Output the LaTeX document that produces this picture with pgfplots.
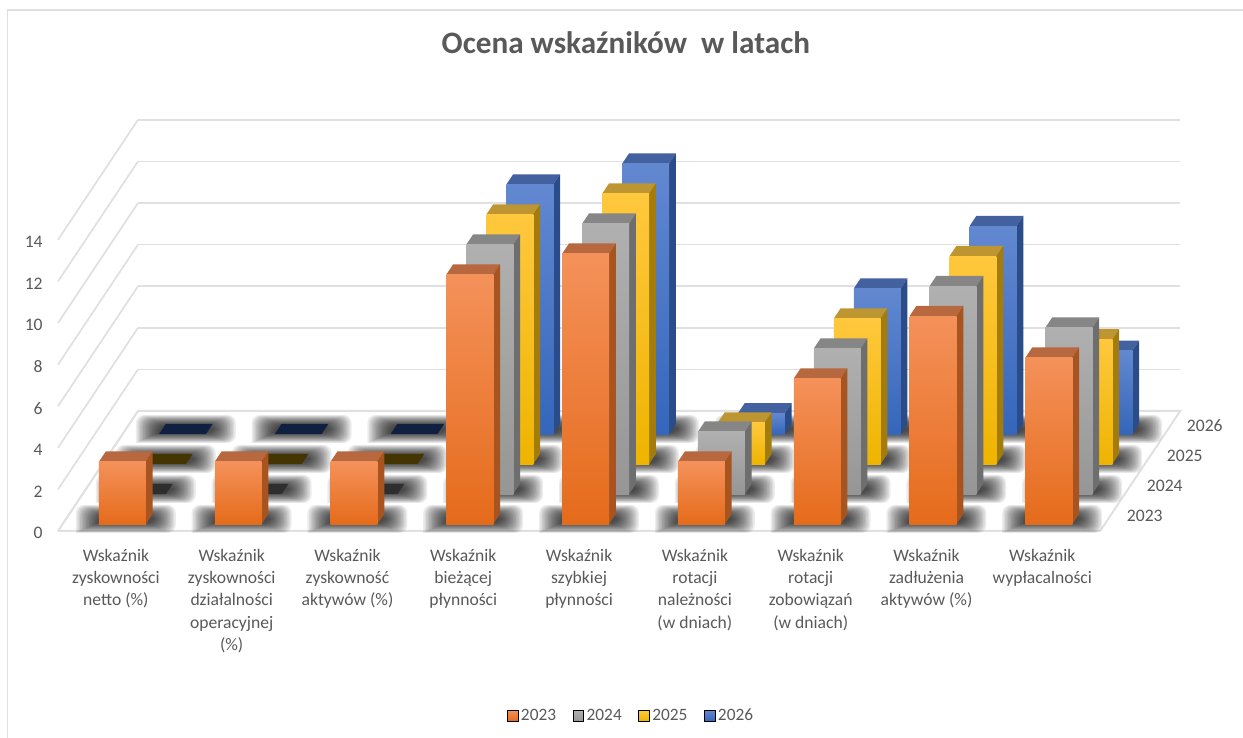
\documentclass[border=0pt]{standalone}
\usepackage{pgfplots}
\pgfplotsset{compat=1.18}
\usepackage{fontspec}
\setmainfont{Carlito}
\definecolor{txt}{HTML}{595959}
\definecolor{gridc}{HTML}{E0E0E0}
\definecolor{aT}{HTML}{F4915A}\definecolor{aM}{HTML}{F67C25}\definecolor{aB}{HTML}{E56B1B}\definecolor{aS}{HTML}{A85420}\definecolor{aU}{HTML}{B8683E}
\definecolor{bT}{HTML}{B0B0B0}\definecolor{bM}{HTML}{A5A5A5}\definecolor{bB}{HTML}{969696}\definecolor{bS}{HTML}{6E6E6E}\definecolor{bU}{HTML}{868686}
\definecolor{cT}{HTML}{FFC83D}\definecolor{cM}{HTML}{FFC000}\definecolor{cB}{HTML}{EEB400}\definecolor{cS}{HTML}{A37C0D}\definecolor{cU}{HTML}{BD9631}
\definecolor{dT}{HTML}{6288D0}\definecolor{dM}{HTML}{4472C4}\definecolor{dB}{HTML}{3566BB}\definecolor{dS}{HTML}{2A4C88}\definecolor{dU}{HTML}{43619F}
\definecolor{bZ}{HTML}{2E2E2E}\definecolor{cZ}{HTML}{453500}\definecolor{dZ}{HTML}{0F2040}\definecolor{aZ}{HTML}{5A2A10}
% #1 category index, #2 row index, #3 colour prefix, #4 value
\newcommand{\onebar}[4]{%
  \pgfmathsetmacro\xa{#1+.314}\pgfmathsetmacro\xb{#1+.719}%
  \pgfmathsetmacro\ya{#2+.23}\pgfmathsetmacro\yb{#2+.57}%
  \addplot3[forget plot,draw=none,fill=#3U] coordinates {(\xa,\ya,#4)(\xb,\ya,#4)(\xb,\yb,#4)(\xa,\yb,#4)};
  \addplot3[forget plot,draw=none,fill=#3S] coordinates {(\xb,\ya,0)(\xb,\yb,0)(\xb,\yb,#4)(\xb,\ya,#4)};
  \addplot3[forget plot,draw=none,top color=#3T,middle color=#3M,bottom color=#3B] coordinates {(\xa,\ya,0)(\xb,\ya,0)(\xb,\ya,#4)(\xa,\ya,#4)};
}
\newcommand{\zerobar}[3]{%
  \pgfmathsetmacro\xa{#1+.314}\pgfmathsetmacro\xb{#1+.719}%
  \pgfmathsetmacro\ya{#2+.23}\pgfmathsetmacro\yb{#2+.57}%
  \addplot3[forget plot,draw=none,fill=#3Z] coordinates {(\xa,\ya,0)(\xb,\ya,0)(\xb,\yb,0)(\xa,\yb,0)};
}
\begin{document}
\begin{tikzpicture}[x=1pt,y=1pt]
\useasboundingbox (0,0) rectangle (932.25,553.5);
\draw[gridc,line width=1.2pt] (5.5,-3) -- (5.5,546) -- (936,546);
\begin{axis}[
  at={(43.5pt,155.25pt)},anchor=origin,
  x={(86.85pt,0pt)},y={(15pt,22.5pt)},z={(0pt,15.6pt)},
  xmin=0,xmax=9,ymin=0,ymax=4,zmin=0,zmax=14,
  clip=false,
  axis line style={draw=none},
  major tick length=0pt,
  zmajorgrids,
  grid style={gridc,line width=1.3pt},
  xtick={0.5,1.5,2.5,3.5,4.5,5.5,6.5,7.5,8.5},
  xticklabels={{Wskaźnik\\zyskowności\\netto (\%)},{Wskaźnik\\zyskowności\\działalności\\operacyjnej\\(\%)},{Wskaźnik\\zyskowność\\aktywów (\%)},{Wskaźnik\\bieżącej\\płynności},{Wskaźnik\\szybkiej\\płynności},{Wskaźnik\\rotacji\\należności\\(w dniach)},{Wskaźnik\\rotacji\\zobowiązań\\(w dniach)},{Wskaźnik\\zadłużenia\\aktywów (\%)},{Wskaźnik\\wypłacalności}},
  ytick={0.5,1.5,2.5,3.5},
  yticklabels={2023,2024,2025,2026},
  ztick={0,2,4,6,8,10,12,14},
  /pgf/number format/assume math mode=true,
  tick label style={text=txt,font=\fontsize{13.2}{16.7}\selectfont},
  x tick label style={align=center,anchor=north,yshift=-10pt},
  y tick label style={anchor=west,xshift=9pt},
  z tick label style={anchor=east,xshift=-8pt,yshift=-1.5pt},
  xticklabel pos=lower,
  yticklabel pos=left,
  zticklabel pos=left,
  title={Ocena wskaźników\ \ w latach},
  title style={at={(0.506,1.168)},anchor=center,text=txt,font=\fontsize{23.4}{28}\selectfont\bfseries},
  legend columns=4,
  legend style={at={(0.511,-0.449)},anchor=center,draw=none,fill=none,text=txt,font=\fontsize{13}{15}\selectfont,
    /tikz/every even column/.append style={column sep=10.5pt}},
  legend image code/.code={\shade[#1] (0pt,-4.2pt) rectangle (8pt,4.2pt);},
]
% floor
\addplot3[forget plot,fill=white,draw=gridc,line width=1.5pt] coordinates {(0,0,0)(9,0,0)(9,4,0)(0,4,0)(0,0,0)};
% soft shadow on the floor: stacked translucent rounded rectangles, square on the page
\pgfplotsforeachungrouped \row in {0,1,2,3}{%
 \pgfplotsforeachungrouped \cat in {0,...,8}{%
  \pgfplotsforeachungrouped \k in {0,...,15}{%
   \pgfmathsetmacro\HX{(28+22*\k/15)/115.8}\pgfmathsetmacro\DY{(4+10*\k/15)/30}\pgfmathsetmacro\Sk{\DY*.1727}%
   \pgfmathsetmacro\cx{\cat+.5165}\pgfmathsetmacro\cy{\row+.40}%
   \pgfmathsetmacro\xa{\cx-\HX+\Sk}\pgfmathsetmacro\xb{\cx+\HX+\Sk}\pgfmathsetmacro\xc{\cx+\HX-\Sk}\pgfmathsetmacro\xd{\cx-\HX-\Sk}%
   \pgfmathsetmacro\ya{\cy-\DY}\pgfmathsetmacro\yb{\cy+\DY}%
   \addplot3[forget plot,draw=none,fill=black,fill opacity=.07,rounded corners=6pt] coordinates {(\xa,\ya,0)(\xb,\ya,0)(\xc,\yb,0)(\xd,\yb,0)(\xa,\ya,0)};
  }%
 }%
}
% 2026
\zerobar{0}{3}{d}\zerobar{1}{3}{d}\zerobar{2}{3}{d}
\onebar{3}{3}{d}{12}
\onebar{4}{3}{d}{13}
\onebar{5}{3}{d}{1}
\onebar{6}{3}{d}{7}
\onebar{7}{3}{d}{10}
\onebar{8}{3}{d}{4}
% 2025
\zerobar{0}{2}{c}\zerobar{1}{2}{c}\zerobar{2}{2}{c}
\onebar{3}{2}{c}{12}
\onebar{4}{2}{c}{13}
\onebar{5}{2}{c}{2}
\onebar{6}{2}{c}{7}
\onebar{7}{2}{c}{10}
\onebar{8}{2}{c}{6}
% 2024
\zerobar{0}{1}{b}\zerobar{1}{1}{b}\zerobar{2}{1}{b}
\onebar{3}{1}{b}{12}
\onebar{4}{1}{b}{13}
\onebar{5}{1}{b}{3}
\onebar{6}{1}{b}{7}
\onebar{7}{1}{b}{10}
\onebar{8}{1}{b}{8}
% 2023
\onebar{0}{0}{a}{3}
\onebar{1}{0}{a}{3}
\onebar{2}{0}{a}{3}
\onebar{3}{0}{a}{12}
\onebar{4}{0}{a}{13}
\onebar{5}{0}{a}{3}
\onebar{6}{0}{a}{7}
\onebar{7}{0}{a}{10}
\onebar{8}{0}{a}{8}
\addlegendimage{top color=aT,bottom color=aB}\addlegendentry{2023}
\addlegendimage{top color=bT,bottom color=bB}\addlegendentry{2024}
\addlegendimage{top color=cT,bottom color=cB}\addlegendentry{2025}
\addlegendimage{top color=dT,bottom color=dB}\addlegendentry{2026}
\end{axis}
\end{tikzpicture}
\end{document}
